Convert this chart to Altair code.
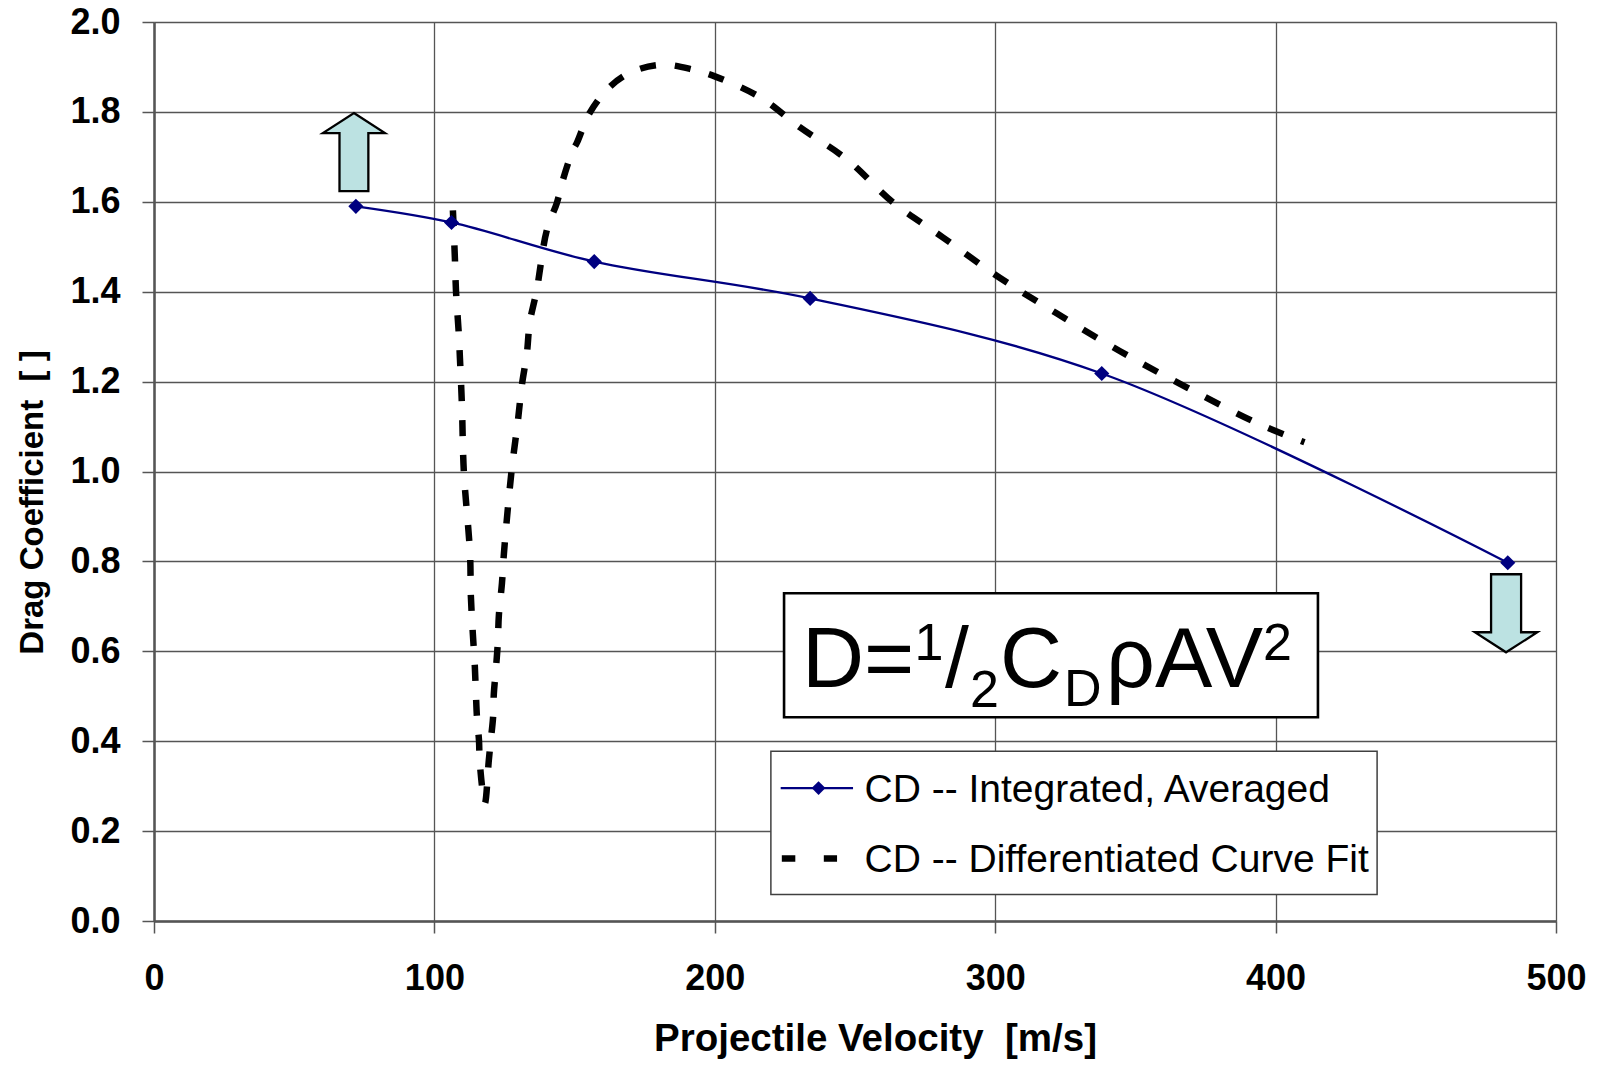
import altair as alt
import pandas as pd

# ---------------- data ----------------
# CD -- Integrated, Averaged
int_v = [72.0, 106.1, 157.0, 234.0, 338.0, 482.8]
int_cd = [1.590, 1.554, 1.467, 1.385, 1.218, 0.797]

# CD -- Differentiated Curve Fit (ordered along the curve)
fit_v = [106.6, 107.3, 107.7, 108.7, 109.1, 109.8, 110.5, 112.7, 113.0, 113.7,
         114.4, 114.8, 115.2, 115.9, 116.2, 118.0,
         119.4, 120.1, 120.9, 121.2, 121.9, 122.6, 123.0, 124.1, 124.8, 127.5,
         129.8, 131.2, 133.0, 134.0, 136.5, 140.1, 143.7, 145.8, 149.4, 150.8,
         155.4, 162.6, 170.8, 181.5, 192.2, 200.0, 216.0, 230.3, 247.4, 263.5,
         281.3, 301.6, 321.6, 344.4, 368.6, 394.3, 410.3]
fit_cd = [1.581, 1.476, 1.402, 1.306, 1.253, 1.150, 1.000, 0.818, 0.724, 0.640,
          0.569, 0.506, 0.451, 0.402, 0.351, 0.262,
          0.357, 0.402, 0.451, 0.506, 0.558, 0.618, 0.681, 0.752, 0.818, 1.000,
          1.114, 1.192, 1.264, 1.331, 1.404, 1.537, 1.598, 1.648, 1.715, 1.731,
          1.798, 1.856, 1.890, 1.905, 1.894, 1.879, 1.833, 1.766, 1.693, 1.599,
          1.521, 1.431, 1.353, 1.268, 1.186, 1.105, 1.065]

x_ticks = [0, 100, 200, 300, 400, 500]
y_ticks = [0.0, 0.2, 0.4, 0.6, 0.8, 1.0, 1.2, 1.4, 1.6, 1.8, 2.0]

series_names = ["CD -- Integrated, Averaged", "CD -- Differentiated Curve Fit"]
x_title = "Projectile Velocity\u00a0\u00a0[m/s]"
y_title = "Drag Coefficient\u00a0\u00a0[ ]"

# formula pieces: D = 1/2 C_D rho A V^2
formula_text = ["D=", "1", "/", "2", "C", "D", "\u03c1AV", "2"]
formula_v = [231.1, 271.2, 282.1, 291.0, 301.7, 324.5, 339.5, 395.5]
formula_cd = [0.5199, 0.580, 0.5199, 0.4754, 0.5199, 0.4777, 0.5199, 0.580]
formula_size = [86, 52, 86, 52, 86, 52, 86, 52]

# boxes (formula box, legend box)
box_v = [224.7, 220.0]
box_v2 = [415.1, 436.2]
box_cd = [0.7291, 0.3775]
box_cd2 = [0.4532, 0.0592]
box_stroke = [2.6, 1.5]
box_color = ["#000000", "#404040"]

# arrows (up at start, down at end)
arrow_v = [71.3, 482.2]
arrow_cd = [1.7107, 0.6846]

# legend layout
leg_text_v = 253.4
leg_text_cd = [0.2646, 0.1088]
leg_line_v = [223.5, 249.3]
leg_line_cd = 0.2958
leg_mark_v = 237.0
leg_dash_v = [223.9, 243.6]
leg_dash_cd = 0.1393

FONT = "Liberation Sans"
NAVY = "#000080"
ARROW_FILL = "#BCE2E2"

# ---------------- tables ----------------
df_int = pd.DataFrame({"v": int_v, "cd": int_cd, "series": series_names[0]})
df_fit = pd.DataFrame({"v": fit_v, "cd": fit_cd, "i": range(len(fit_v)),
                       "series": series_names[1]})
df_formula = pd.DataFrame({"v": formula_v, "cd": formula_cd,
                           "t": formula_text, "fs": formula_size})
df_box = pd.DataFrame({"v": box_v, "v2": box_v2, "cd": box_cd, "cd2": box_cd2,
                       "sw": box_stroke, "col": box_color})
df_leg_text = pd.DataFrame({"v": [leg_text_v] * 2, "cd": leg_text_cd,
                            "t": series_names})
df_leg_line = pd.DataFrame({"v": [leg_line_v[0]], "v2": [leg_line_v[1]],
                            "cd": [leg_line_cd]})
df_leg_mark = pd.DataFrame({"v": [leg_mark_v], "cd": [leg_line_cd]})
df_leg_dash = pd.DataFrame({"v": [leg_dash_v[0]], "v2": [leg_dash_v[1]],
                            "cd": [leg_dash_cd]})
df_up = pd.DataFrame({"v": [arrow_v[0]], "cd": [arrow_cd[0]]})
df_down = pd.DataFrame({"v": [arrow_v[1]], "cd": [arrow_cd[1]]})

# ---------------- shared encodings ----------------
X = alt.X("v:Q",
          scale=alt.Scale(domain=[0, 500], nice=False, zero=False),
          axis=alt.Axis(values=x_ticks, format="d", labelFlush=False,
                        title=x_title,
                        titleX=721, titleY=129, titleAnchor="start",
                        titleAlign="center", titleBaseline="alphabetic",
                        labelPadding=28))
Y = alt.Y("cd:Q",
          scale=alt.Scale(domain=[0, 2], nice=False, zero=False),
          axis=alt.Axis(values=y_ticks, format=".1f", labelFlush=False,
                        title=y_title,
                        titleX=-112, titleY=480, titleAngle=270,
                        titleAlign="center", titleBaseline="alphabetic",
                        titleFontSize=33, labelPadding=22))

boxes = alt.Chart(df_box).mark_rect(fill="white", fillOpacity=1).encode(
    x=X, x2="v2:Q", y=Y, y2="cd2:Q",
    stroke=alt.Color("col:N", scale=None),
    strokeWidth=alt.StrokeWidth("sw:Q", scale=None),
)

formula = alt.Chart(df_formula).mark_text(
    align="left", baseline="alphabetic", font=FONT, color="black"
).encode(
    x=X, y=Y, text="t:N", size=alt.Size("fs:Q", scale=None)
)

int_line = alt.Chart(df_int).mark_line(
    color=NAVY, strokeWidth=2.3, interpolate="catmull-rom"
).encode(x=X, y=Y)

int_pts = alt.Chart(df_int).mark_point(
    shape="diamond", filled=True, color=NAVY, size=230, opacity=1
).encode(x=X, y=Y)

fit_line = alt.Chart(df_fit).mark_line(
    color="black", strokeWidth=6.5, strokeDash=[16, 19], strokeCap="butt",
    interpolate="catmull-rom"
).encode(x=X, y=Y, order="i:Q")

leg_text = alt.Chart(df_leg_text).mark_text(
    align="left", baseline="alphabetic", font=FONT, fontSize=39, color="black"
).encode(x=X, y=Y, text="t:N")

leg_line = alt.Chart(df_leg_line).mark_rule(color=NAVY, strokeWidth=2.3).encode(
    x=X, x2="v2:Q", y=Y)

leg_mark = alt.Chart(df_leg_mark).mark_point(
    shape="diamond", filled=True, color=NAVY, size=190, opacity=1
).encode(x=X, y=Y)

leg_dash = alt.Chart(df_leg_dash).mark_rule(
    color="black", strokeWidth=6.5, strokeDash=[13.5, 28.5], strokeCap="butt"
).encode(x=X, x2="v2:Q", y=Y)

UP = "M0,-1 L0.795,-0.487 L0.37,-0.487 L0.37,1 L-0.37,1 L-0.37,-0.487 L-0.795,-0.487 Z"
DOWN = "M0,1 L0.8,0.487 L0.385,0.487 L0.385,-1 L-0.385,-1 L-0.385,0.487 L-0.8,0.487 Z"

up_arrow = alt.Chart(df_up).mark_point(
    shape=UP, filled=True, fill=ARROW_FILL, stroke="black", strokeWidth=2.3,
    size=6084, opacity=1, fillOpacity=1, strokeOpacity=1
).encode(x=X, y=Y)

down_arrow = alt.Chart(df_down).mark_point(
    shape=DOWN, filled=True, fill=ARROW_FILL, stroke="black", strokeWidth=2.3,
    size=6084, opacity=1, fillOpacity=1, strokeOpacity=1
).encode(x=X, y=Y)

chart = alt.layer(
    boxes, formula, int_line, fit_line, int_pts,
    leg_line, leg_mark, leg_dash, leg_text, up_arrow, down_arrow
).properties(
    width=1402, height=899,
    autosize=alt.AutoSizeParams(type="none"),
    padding={"left": 146, "top": 14, "right": 30, "bottom": 140},
    background="white",
).configure_view(
    stroke="transparent"
).configure_axis(
    labelFont=FONT, labelFontWeight="bold", labelFontSize=36, labelColor="black",
    titleFont=FONT, titleFontWeight="bold", titleFontSize=38.5, titleColor="black",
    grid=True, gridColor="#555555", gridWidth=1.3, gridOpacity=1,
    domainColor="#555555", domainWidth=2.5,
    tickColor="#555555", tickWidth=1.5, tickSize=12,
)

chart.save("out.html", embed_options={"renderer": "svg", "actions": False})
